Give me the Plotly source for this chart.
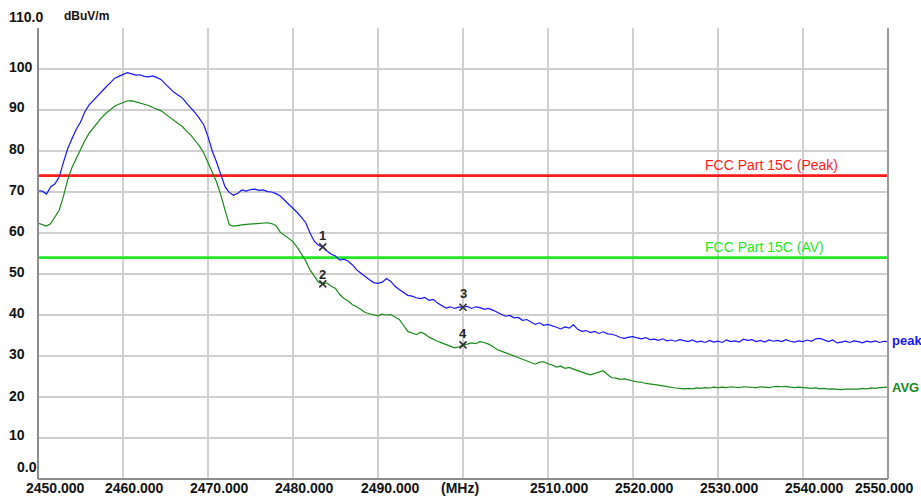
import plotly.graph_objects as go

# ---------------- data ----------------
freq_mhz = [
    2450.0, 2450.5, 2451.0, 2451.5, 2452.0, 2452.5, 2453.0, 2453.5, 2454.0, 2454.5,
    2455.0, 2455.5, 2456.0, 2456.5, 2457.0, 2457.5, 2458.0, 2458.5, 2459.0, 2459.5,
    2460.0, 2460.5, 2461.0, 2461.5, 2462.0, 2462.5, 2463.0, 2463.5, 2464.0, 2464.5,
    2465.0, 2465.5, 2466.0, 2466.5, 2467.0, 2467.5, 2468.0, 2468.5, 2469.0, 2469.5,
    2470.0, 2470.5, 2471.0, 2471.5, 2472.0, 2472.5, 2473.0, 2473.5, 2474.0, 2474.5,
    2475.0, 2475.5, 2476.0, 2476.5, 2477.0, 2477.5, 2478.0, 2478.5, 2479.0, 2479.5,
    2480.0, 2480.5, 2481.0, 2481.5, 2482.0, 2482.5, 2483.0, 2483.5, 2484.0, 2484.5,
    2485.0, 2485.5, 2486.0, 2486.5, 2487.0, 2487.5, 2488.0, 2488.5, 2489.0, 2489.5,
    2490.0, 2490.5, 2491.0, 2491.5, 2492.0, 2492.5, 2493.0, 2493.5, 2494.0, 2494.5,
    2495.0, 2495.5, 2496.0, 2496.5, 2497.0, 2497.5, 2498.0, 2498.5, 2499.0, 2499.5,
    2500.0, 2500.5, 2501.0, 2501.5, 2502.0, 2502.5, 2503.0, 2503.5, 2504.0, 2504.5,
    2505.0, 2505.5, 2506.0, 2506.5, 2507.0, 2507.5, 2508.0, 2508.5, 2509.0, 2509.5,
    2510.0, 2510.5, 2511.0, 2511.5, 2512.0, 2512.5, 2513.0, 2513.5, 2514.0, 2514.5,
    2515.0, 2515.5, 2516.0, 2516.5, 2517.0, 2517.5, 2518.0, 2518.5, 2519.0, 2519.5,
    2520.0, 2520.5, 2521.0, 2521.5, 2522.0, 2522.5, 2523.0, 2523.5, 2524.0, 2524.5,
    2525.0, 2525.5, 2526.0, 2526.5, 2527.0, 2527.5, 2528.0, 2528.5, 2529.0, 2529.5,
    2530.0, 2530.5, 2531.0, 2531.5, 2532.0, 2532.5, 2533.0, 2533.5, 2534.0, 2534.5,
    2535.0, 2535.5, 2536.0, 2536.5, 2537.0, 2537.5, 2538.0, 2538.5, 2539.0, 2539.5,
    2540.0, 2540.5, 2541.0, 2541.5, 2542.0, 2542.5, 2543.0, 2543.5, 2544.0, 2544.5,
    2545.0, 2545.5, 2546.0, 2546.5, 2547.0, 2547.5, 2548.0, 2548.5, 2549.0, 2549.5,
    2550.0,
]

peak_dbuv = [
    70.3, 70.2, 69.5, 71.3, 72.0, 73.7, 77.3, 80.6, 83.0, 85.3,
    87.0, 89.5, 91.2, 92.3, 93.5, 94.7, 95.6, 96.6, 97.7, 98.2,
    98.6, 99.1, 98.8, 98.5, 98.6, 98.2, 98.1, 98.3, 97.9, 97.4,
    96.3, 95.2, 94.3, 93.6, 92.9, 91.6, 90.5, 89.3, 87.9, 86.4,
    83.5, 80.0, 77.3, 74.1, 71.3, 69.9, 69.2, 69.7, 70.5, 70.2,
    70.6, 70.7, 70.4, 70.5, 70.1, 70.0, 69.6, 69.0, 68.0, 67.1,
    66.0, 65.0, 63.8, 62.5, 60.0, 58.0, 57.0, 56.6, 55.6, 54.8,
    54.4, 53.4, 53.6, 53.1, 52.2, 51.0, 50.2, 49.3, 48.6, 47.9,
    47.7, 48.0, 48.9, 48.2, 47.0, 46.2, 45.4, 44.8, 44.6, 44.2,
    44.0, 44.3, 43.6, 43.8, 42.9, 42.3, 41.7, 42.0, 41.6, 41.9,
    41.9, 42.1, 41.6, 42.0, 41.8, 41.4, 41.6, 41.2, 40.6, 40.2,
    39.7, 39.9, 39.3, 39.4, 38.7, 38.9, 38.3, 37.7, 38.1, 37.5,
    37.7, 37.4, 37.0, 36.6, 37.1, 36.8, 37.6, 36.5, 36.0, 36.2,
    35.7, 36.0, 35.5, 35.9, 35.4, 35.3, 35.0, 34.5, 34.3, 34.6,
    34.7, 34.4, 34.2, 34.5, 34.0, 34.1, 33.8, 34.2, 33.7, 33.9,
    33.6, 34.0, 33.7, 33.5, 33.9, 33.4, 33.6, 33.3, 33.8, 33.4,
    33.6, 33.3, 33.9, 33.5, 33.7, 33.4, 34.1, 33.8, 34.0, 33.5,
    33.8, 33.4, 33.9, 33.6, 33.8, 33.5, 34.0, 33.6, 33.4, 33.7,
    33.5, 33.9, 33.6, 34.2, 34.3, 33.8, 33.5, 33.9, 33.2, 33.4,
    33.6, 33.3, 33.7, 33.5, 33.2, 33.6, 33.4, 33.7, 33.3, 33.6,
    33.5,
]

avg_dbuv = [
    62.4, 62.0, 61.7, 62.3, 63.8, 65.6, 69.0, 73.0, 76.0, 78.2,
    80.5, 82.5, 84.3, 85.7, 87.0, 88.2, 89.2, 90.1, 90.9, 91.4,
    91.8, 92.2, 92.3, 92.0, 91.8, 91.5, 91.1, 90.6, 90.2, 89.8,
    89.0, 88.2, 87.4, 86.6, 85.9, 84.8, 83.8, 82.5, 81.2, 79.5,
    77.3, 75.0, 72.5, 69.3, 65.5, 62.0, 61.7, 61.9, 62.0, 62.1,
    62.2, 62.3, 62.4, 62.4, 62.5, 62.3, 61.8, 60.2, 59.5, 58.6,
    57.9, 56.5, 55.0, 53.2, 51.0, 49.5, 48.0, 47.6, 47.8, 47.0,
    46.5, 45.0, 44.0, 43.4, 42.5, 42.0, 41.2, 40.6, 40.3, 40.1,
    39.8, 40.2, 40.0, 40.1, 39.6, 38.9, 37.5, 36.0, 35.6, 35.2,
    35.8, 35.4, 34.6, 34.0, 33.6, 33.2, 32.8, 32.5, 32.0, 32.2,
    32.7, 32.9, 33.2, 33.0, 33.5, 33.3, 32.9, 32.3, 31.6, 31.2,
    30.8, 30.4, 30.0, 29.6, 29.3, 28.9, 28.4, 28.0, 28.5, 28.6,
    28.1, 27.8, 27.3, 27.5, 27.0, 27.2, 26.8, 26.4, 26.0, 25.7,
    25.4, 25.7, 26.0, 26.4, 25.5, 24.7, 24.6, 24.3, 24.4, 24.1,
    23.9, 23.7, 23.6, 23.3, 23.2, 23.0, 22.9, 22.7, 22.5, 22.3,
    22.2, 22.1, 22.0, 22.1, 22.0, 22.2, 22.1, 22.3, 22.2, 22.4,
    22.3, 22.4, 22.3, 22.5, 22.4, 22.3, 22.5, 22.4, 22.4, 22.3,
    22.5, 22.4, 22.3, 22.5, 22.6, 22.5, 22.6, 22.4, 22.3, 22.4,
    22.3, 22.2, 22.1, 22.2, 22.0, 22.1, 21.9, 22.0, 21.9, 21.8,
    21.9, 21.9, 22.0, 21.9, 22.1, 22.0, 22.2, 22.1, 22.3, 22.3,
    22.4,
]

limit_names = ["FCC Part 15C (Peak)", "FCC Part 15C (AV)"]
limit_levels = [74.0, 54.0]

marker_labels = ["1", "2", "3", "4"]
marker_freq = [2483.5, 2483.5, 2500.0, 2500.0]
marker_level = [56.6, 47.6, 41.9, 32.7]

x_tick_vals = [2450, 2460, 2470, 2480, 2490, 2500, 2510, 2520, 2530, 2540, 2550]
x_tick_text = ["2450.000", "2460.000", "2470.000", "2480.000", "2490.000", "(MHz)",
               "2510.000", "2520.000", "2530.000", "2540.000", "2550.000"]
y_tick_vals = [110, 100, 90, 80, 70, 60, 50, 40, 30, 20, 10, 0]
y_tick_text = ["110.0", "100", "90", "80", "70", "60", "50", "40", "30", "20", "10", "0.0"]

# ---------------- styling ----------------
FONT = "Liberation Sans, Arial, sans-serif"
PEAK_COLOR = "#1414ff"
AVG_COLOR = "#178a17"
RED = "#ff1a1a"
LIME = "#22e822"
GRID = "#cfcfcf"
AXIS = "#8c8c8c"

fig = go.Figure()

# limit lines
for name, lvl, col in zip(limit_names, limit_levels, [RED, LIME]):
    fig.add_trace(go.Scatter(x=[freq_mhz[0], freq_mhz[-1]], y=[lvl, lvl], mode="lines",
                             line=dict(color=col, width=2.6), name=name,
                             hoverinfo="skip"))

fig.add_trace(go.Scatter(x=freq_mhz, y=avg_dbuv, mode="lines",
                         line=dict(color=AVG_COLOR, width=1.2), name="AVG"))
fig.add_trace(go.Scatter(x=freq_mhz, y=peak_dbuv, mode="lines",
                         line=dict(color=PEAK_COLOR, width=1.2), name="peak"))

fig.add_trace(go.Scatter(x=marker_freq, y=marker_level, mode="markers",
                         marker=dict(symbol="x-thin", size=7,
                                     line=dict(color="#303030", width=1.6)),
                         name="markers"))

annotations = []
# marker numbers
marker_shift = [11, 9, 14, 11]
for lab, fx, lv, sh in zip(marker_labels, marker_freq, marker_level, marker_shift):
    annotations.append(dict(x=fx, y=lv, xref="x", yref="y", text=lab, showarrow=False,
                            yshift=sh, font=dict(family=FONT, size=13, color="#222222",
                                                 weight="bold")))

# limit line labels
annotations.append(dict(x=2528.2, y=limit_levels[0], xref="x", yref="y", xanchor="left",
                        yanchor="middle", yshift=11, text=limit_names[0], showarrow=False,
                        font=dict(family=FONT, size=14, color=RED)))
annotations.append(dict(x=2528.2, y=limit_levels[1], xref="x", yref="y", xanchor="left",
                        yanchor="middle", yshift=11, text=limit_names[1], showarrow=False,
                        font=dict(family=FONT, size=14, color=LIME)))

# trace end labels
annotations.append(dict(x=1.0, y=peak_dbuv[-1], xref="paper", yref="y", xanchor="left",
                        yanchor="middle", xshift=2, yshift=1, text="peak", showarrow=False,
                        font=dict(family=FONT, size=13, color=PEAK_COLOR, weight="bold")))
annotations.append(dict(x=1.0, y=avg_dbuv[-1], xref="paper", yref="y", xanchor="left",
                        yanchor="middle", xshift=2, text="AVG", showarrow=False,
                        font=dict(family=FONT, size=13, color=AVG_COLOR, weight="bold")))

# y unit
annotations.append(dict(x=0.0282, y=1.0266, xref="paper", yref="paper", xanchor="left",
                        yanchor="middle", text="dBuV/m", showarrow=False,
                        font=dict(family=FONT, size=12, color="#111111", weight="bold")))

# x tick labels
x_shift = [17, 11, 11, 11, 12, -3, 11, 11, 11, 11, -4]
for v, t, sh in zip(x_tick_vals, x_tick_text, x_shift):
    annotations.append(dict(x=v, y=0, xref="x", yref="paper", xanchor="center",
                            yanchor="middle", xshift=sh, yshift=-9, text=t, showarrow=False,
                            font=dict(family=FONT, size=14, color="#111111", weight="bold")))

# y tick labels
y_shift = [11, 2, 3, 2.5, 2.5, 2.5, 2.5, 2.5, 2.5, 1, 3, 12]
for v, t, sh in zip(y_tick_vals, y_tick_text, y_shift):
    xpos = -0.0271 if t == "0.0" else -0.0365
    annotations.append(dict(x=xpos, y=v, xref="paper", yref="y", xanchor="left",
                            yanchor="middle", yshift=sh, text=t, showarrow=False,
                            font=dict(family=FONT, size=14, color="#111111", weight="bold")))

shapes = [
    dict(type="line", xref="paper", yref="paper", x0=0, x1=0, y0=0, y1=1,
         line=dict(color=AXIS, width=2)),
    dict(type="line", xref="paper", yref="paper", x0=0, x1=1, y0=0, y1=0,
         line=dict(color=AXIS, width=2)),
    dict(type="line", xref="paper", yref="paper", x0=1, x1=1, y0=0, y1=1,
         line=dict(color="#9a9a9a", width=2)),
]

fig.update_layout(
    width=921, height=497,
    margin=dict(l=38, r=33, t=28, b=18),
    paper_bgcolor="white", plot_bgcolor="white",
    showlegend=False,
    annotations=annotations,
    shapes=shapes,
    xaxis=dict(range=[2450, 2550], tickvals=x_tick_vals, showticklabels=False,
               showgrid=True, gridcolor=GRID, gridwidth=1.5, zeroline=False,
               showline=False, ticks=""),
    yaxis=dict(range=[0, 110], tickvals=y_tick_vals, showticklabels=False,
               showgrid=True, gridcolor=GRID, gridwidth=1.5, zeroline=False,
               showline=False, ticks=""),
    font=dict(family=FONT),
)

fig.write_html(
    "out.html",
    config={"displayModeBar": False},
    post_script="document.body.style.margin='0';document.body.style.padding='0';"
                "document.body.style.overflow='hidden';",
)
